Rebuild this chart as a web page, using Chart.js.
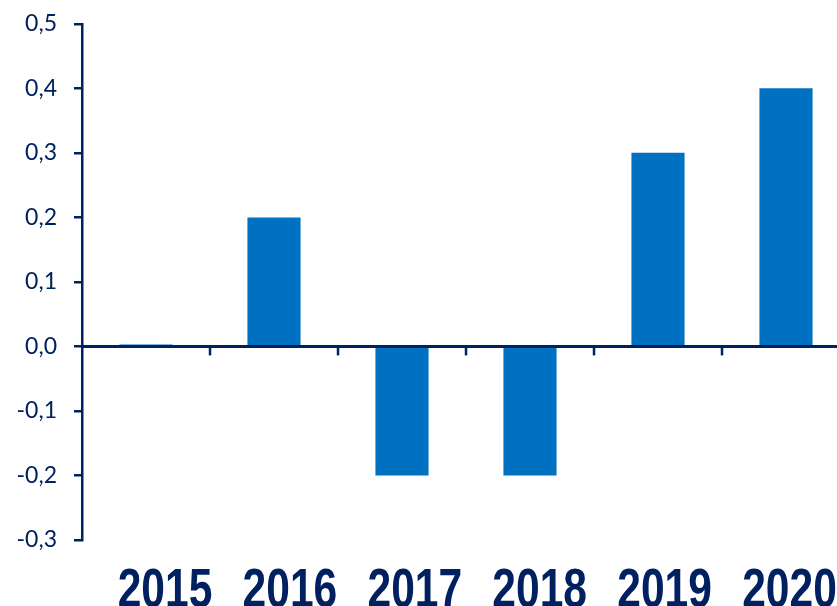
<!DOCTYPE html>
<html>
<head>
<meta charset="utf-8">
<script src="https://cdn.jsdelivr.net/npm/chart.js@4"></script>
<style>
  html, body { margin: 0; padding: 0; background: #fff; overflow: hidden; }
  #chart { display: block; margin-top: -7px; }
</style>
</head>
<body>
<canvas id="chart" width="860" height="637"></canvas>
<script>
// дані
const years = ["2015", "2016", "2017", "2018", "2019", "2020"];
const values = [0.003, 0.2, -0.2, -0.2, 0.3, 0.4];
const yMin = -0.3, yMax = 0.5, yStep = 0.1;

const navy = "#002060";
const blue = "#0070C0";

// лінія нуля + короткі засічки між категоріями
const zeroAxis = {
    id: "zeroAxis",
    afterDatasetsDraw(chart) {
        const { ctx, chartArea, scales } = chart;
        const y0 = scales.y.getPixelForValue(0);
        ctx.save();
        ctx.strokeStyle = navy;
        ctx.lineWidth = 3;
        ctx.beginPath();
        ctx.moveTo(chartArea.left, y0);
        ctx.lineTo(chartArea.right, y0);
        ctx.stroke();
        ctx.lineWidth = 2.5;
        for (let i = 1; i < years.length; i++) {
            const xb = (scales.x.getPixelForValue(i - 1) + scales.x.getPixelForValue(i)) / 2;
            ctx.beginPath();
            ctx.moveTo(xb, y0);
            ctx.lineTo(xb, y0 + 9);
            ctx.stroke();
        }
        ctx.restore();
    }
};

// вузькі жирні підписи років (стиснуті по ширині)
const yearLabels = {
    id: "yearLabels",
    afterDraw(chart) {
        const { ctx, chartArea, scales } = chart;
        ctx.save();
        ctx.fillStyle = navy;
        ctx.font = "bold 56px 'Liberation Sans', Arial, sans-serif";
        ctx.textAlign = "center";
        ctx.textBaseline = "alphabetic";
        years.forEach((lbl, i) => {
            const x = scales.x.getPixelForValue(i) + 19 - 3.1 * i;
            ctx.save();
            ctx.translate(x, chartArea.bottom + 67);
            ctx.scale(0.76, 1);
            ctx.fillText(lbl, 0, 0);
            ctx.restore();
        });
        ctx.restore();
    }
};

new Chart(document.getElementById("chart").getContext("2d"), {
    type: "bar",
    data: {
        labels: years,
        datasets: [{
            data: values,
            backgroundColor: blue,
            borderWidth: 0,
            barPercentage: 0.415,
            categoryPercentage: 1
        }]
    },
    options: {
        responsive: false,
        animation: false,
        layout: { padding: { top: 2, right: 10, left: 0, bottom: 0 } },
        plugins: { legend: { display: false }, tooltip: { enabled: false } },
        scales: {
            x: {
                grid: { display: false },
                border: { display: false },
                ticks: { display: false },
                afterFit(scale) { scale.height = 90; }
            },
            y: {
                min: yMin,
                max: yMax,
                ticks: {
                    stepSize: yStep,
                    color: navy,
                    padding: 17,
                    font: { family: "Lato", size: 23 },
                    callback: v => (Math.round(v * 10) / 10).toFixed(1).replace(".", ",")
                },
                grid: { drawOnChartArea: false, drawTicks: true, tickLength: 8, color: navy, lineWidth: 2.5 },
                border: { display: true, color: navy, width: 2.5 },
                afterFit(scale) { scale.width = 82; }
            }
        }
    },
    plugins: [zeroAxis, yearLabels]
});
</script>
</body>
</html>
